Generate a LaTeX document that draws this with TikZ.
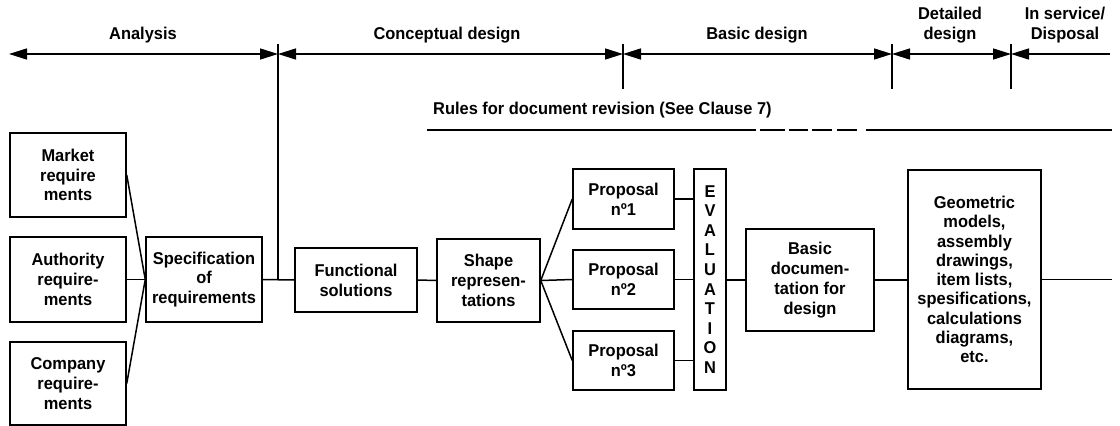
\documentclass[tikz,border=0pt]{standalone}
\usepackage{fontspec}
\setmainfont{Liberation Sans}[FakeStretch=0.96]
\usetikzlibrary{arrows.meta}
\tikzset{
  blk/.style={draw, line width=1.5pt, align=center, inner sep=0pt, font=\lbl},
  conn/.style={line width=1.5pt},
  phase/.style={line width=1.5pt, {Triangle[length=18pt,width=11pt]}-{Triangle[length=18pt,width=11pt]}},
  phaseL/.style={line width=1.5pt, {Triangle[length=18pt,width=11pt]}-},
  tick/.style={line width=1.5pt},
  lab/.style={align=center, inner sep=0pt, font=\lbl},
}
\newcommand{\lbl}{\fontsize{17.1}{19.8}\selectfont\bfseries}
\begin{document}
\begin{tikzpicture}[x=1pt,y=-1pt]
\useasboundingbox (0,0) rectangle (1120,426);

% phase labels
\node[lab] (lana) at (143,35) {Analysis};
\node[lab] (lcon) at (447,35) {Conceptual design};
\node[lab] (lbas) at (757,35) {Basic design};
\node[lab] (ldet) at (950,25) {Detailed\\design};
\node[lab] (lser) at (1065,25) {In service/\\Disposal};

% phase line coordinates
\coordinate (p0) at (9,54);
\coordinate (p1) at (278,54);
\coordinate (p2) at (623,54);
\coordinate (p3) at (892,54);
\coordinate (p4) at (1011,54);
\coordinate (p5) at (1110,54);
\draw[phase] (p0) -- (p1);
\draw[phase] (p1) -- (p2);
\draw[phase] (p2) -- (p3);
\draw[phase] (p3) -- (p4);
\draw[phaseL] (p4) -- (p5);

% boxes
\node[blk, minimum width=116pt, minimum height=84pt] (mkt) at (68,175) {Market\\require\\ments};
\node[blk, minimum width=116pt, minimum height=85pt] (aut) at (68,279.5) {Authority\\require-\\ments};
\node[blk, minimum width=116pt, minimum height=83pt] (cmp) at (68,383.5) {Company\\require-\\ments};
\node[blk, minimum width=116pt, minimum height=85pt] (spec) at (204,279.5) {Specification\\of\\requirements};
\node[blk, minimum width=122pt, minimum height=64pt] (fun) at (356,280) {Functional\\solutions};
\node[blk, minimum width=103pt, minimum height=83pt] (shp) at (488.5,280.5) {Shape\\represen-\\tations};
\node[blk, minimum width=101pt, minimum height=60pt] (pr1) at (623.5,199) {Proposal\\nº1};
\node[blk, minimum width=101pt, minimum height=59pt] (pr2) at (623.5,279.5) {Proposal\\nº2};
\node[blk, minimum width=101pt, minimum height=59pt] (pr3) at (623.5,360.5) {Proposal\\nº3};
\node[blk, minimum width=32pt, minimum height=221pt, font=\fontsize{17.1}{19.6}\selectfont\bfseries] (ev) at (710,279.5) {E\\V\\A\\L\\U\\A\\T\\I\\O\\N};
\node[blk, minimum width=128pt, minimum height=102pt] (bas) at (810,280) {Basic\\documen-\\tation for\\design};
\node[blk, minimum width=133pt, minimum height=219pt, font=\fontsize{17.1}{19.25}\selectfont\bfseries] (geo) at (974.5,279.5) {Geometric\\models,\\assembly\\drawings,\\item lists,\\spesifications,\\calculations\\diagrams,\\etc.};

% connectors
\draw[conn] (mkt.east) -- (spec.west);
\draw[conn] (aut.east) -- (spec.west);
\draw[conn] (cmp.east) -- (spec.west);
\draw[conn] (spec.east) -- (fun.west);
\coordinate (j1) at (278,279.5);
\draw[tick] (278,44) -- (j1);
\draw[tick] (623,44) -- (623,89);
\draw[tick] (892,44) -- (892,89);
\draw[tick] (1011,44) -- (1011,89);
\draw[conn] (fun.east) -- (shp.west);
\draw[conn] (shp.east) -- (pr1.west);
\draw[conn] (shp.east) -- (pr2.west);
\draw[conn] (shp.east) -- (pr3.west);
\draw[conn] (pr1.east) -- (pr1.east -| ev.west);
\draw[conn] (pr2.east) -- (pr2.east -| ev.west);
\draw[conn] (pr3.east) -- (pr3.east -| ev.west);
\draw[conn] (ev.east |- bas.west) -- (bas.west);
\draw[conn] (bas.east) -- (bas.east -| geo.west);
\coordinate (rend) at (1112,279.5);
\draw[conn] (geo.east |- rend) -- (rend);

% rules for document revision
\node[lab, anchor=west] (rules) at (433,110) {Rules for document revision (See Clause 7)};
\draw[conn] (427,130) -- (756,130);
\draw[conn] (760,130) -- (785,130);
\draw[conn] (789,130) -- (808,130);
\draw[conn] (812,130) -- (832,130);
\draw[conn] (837,130) -- (857,130);
\draw[conn] (866,130) -- (1112,130);
\end{tikzpicture}
\end{document}
